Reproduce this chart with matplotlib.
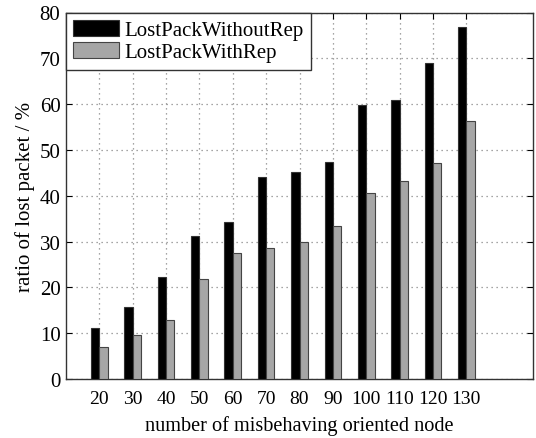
import matplotlib
matplotlib.use("Agg")
import matplotlib.pyplot as plt
import numpy as np

nodes = [20, 30, 40, 50, 60, 70, 80, 90, 100, 110, 120, 130]
without_rep = [11.1, 15.8, 22.3, 31.2, 34.3, 44.2, 45.2, 47.4, 59.8, 60.8, 68.9, 76.8]
with_rep = [6.9, 9.5, 12.8, 21.9, 27.5, 28.6, 29.9, 33.5, 40.7, 43.3, 47.2, 56.3]
yticks = [0, 10, 20, 30, 40, 50, 60, 70, 80]

plt.rcParams['font.family'] = ['Liberation Serif', 'DejaVu Serif']
plt.rcParams['font.size'] = 14

fig = plt.figure(figsize=(5.36, 4.39), dpi=100)
ax = fig.add_axes([66/536, 1-380/439, (533-66)/536, (380-13.5)/439])

w = 2.5
ax.bar(nodes, without_rep, width=-w, align='edge', color='black', edgecolor='#333333', linewidth=0.8, label='LostPackWithoutRep', zorder=3)
ax.bar(nodes, with_rep, width=w, align='edge', color='#a6a6a6', edgecolor='#444444', linewidth=0.8, label='LostPackWithRep', zorder=3)

ax.set_xlim(10, 150)
ax.set_ylim(0, 80)
ax.set_xticks(nodes)
ax.set_yticks(yticks)
ax.tick_params(direction='in', top=True, right=True, length=4)
ax.tick_params(axis='x', labelsize=14, pad=8)
ax.tick_params(axis='y', labelsize=15, pad=4)
ax.grid(True, linestyle=(0, (1, 3)), color='#888888', linewidth=0.9, zorder=0)
for s in ax.spines.values():
    s.set_color('#333333')
    s.set_linewidth(1.0)

ax.set_xlabel('number of misbehaving oriented node', fontsize=14.6, labelpad=6)
ax.set_ylabel('ratio of lost packet / %', fontsize=15, labelpad=3)

leg = ax.legend(loc='upper left', bbox_to_anchor=(0, 1), borderaxespad=0, fancybox=False,
                framealpha=1, edgecolor='#333333', handlelength=2.2, handleheight=0.8,
                handletextpad=0.25, borderpad=0.35, labelspacing=0.1, fontsize=15)
leg.get_frame().set_linewidth(1.0)

fig.savefig('out.png', dpi=100)
